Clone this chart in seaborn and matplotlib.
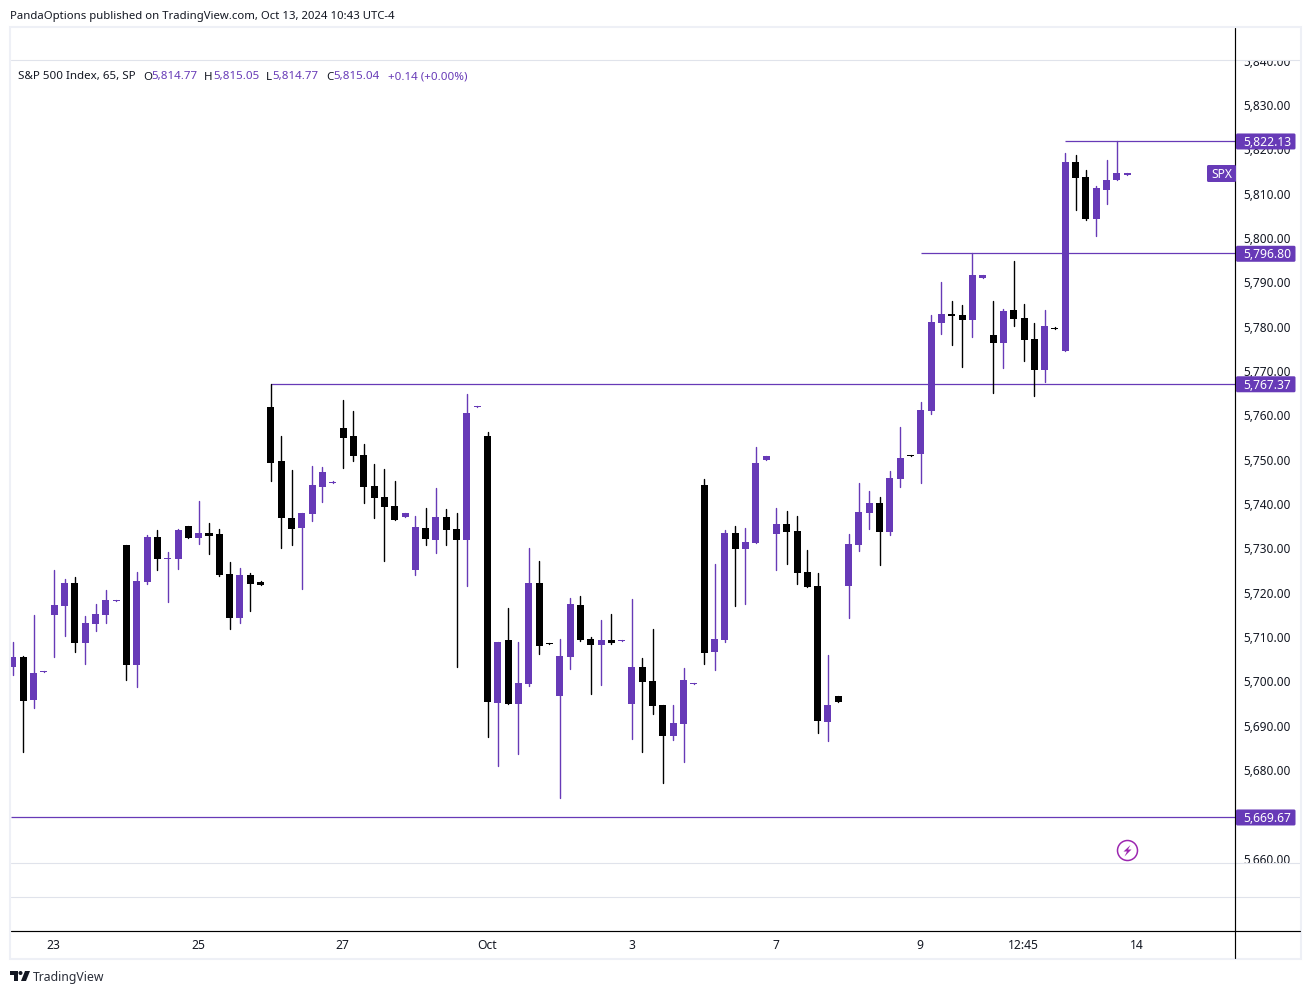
import numpy as np
import pandas as pd
import matplotlib
matplotlib.use("Agg")
import matplotlib.pyplot as plt
from matplotlib.patches import Rectangle, Polygon, Circle, FancyBboxPatch
from matplotlib.transforms import Affine2D
import seaborn as sns

opens = [5703.57,5705.83,5696.13,5702.44,5715.30,5717.33,5722.52,5708.98,5713.27,5715.30,5718.46,5731.09,5704.02,5722.74,5732.89,5727.93,5727.93,5735.37,5732.66,5733.79,
5733.57,5724.55,5714.62,5724.32,5722.74,5762.21,5750.03,5737.18,5734.92,5738.08,5744.17,5745.07,5757.47,5755.67,5751.38,5744.39,5741.91,5739.88,5737.40,5725.45,
5734.92,5732.21,5737.40,5734.69,5732.21,5762.21,5755.67,5695.45,5709.66,5695.23,5699.74,5722.52,5708.98,5697.03,5705.83,5717.55,5709.89,5708.53,5709.66,5709.43,
5695.23,5703.57,5700.41,5695.00,5688.01,5690.72,5699.74,5744.62,5706.95,5709.66,5733.79,5730.19,5731.54,5750.26,5733.57,5735.82,5734.25,5725.00,5721.84,5691.17,
5697.03,5721.84,5731.09,5738.30,5740.56,5734.02,5745.97,5751.39,5751.61,5761.30,5781.15,5783.18,5782.96,5781.83,5791.30,5778.44,5776.64,5784.08,5782.28,5777.54,
5770.55,5780.02,5774.84,5817.46,5814.08,5804.61,5811.15,5813.40,5814.53]
highs = [5709.21,5706.05,5715.30,5702.67,5725.45,5723.42,5723.87,5715.07,5717.78,5720.94,5718.68,5731.09,5725.00,5733.34,5734.47,5729.51,5734.69,5735.37,5741.01,5736.05,
5734.69,5727.25,5725.90,5724.77,5722.97,5767.37,5755.67,5748.00,5738.30,5748.90,5748.68,5745.52,5763.79,5761.31,5753.87,5749.35,5748.23,5745.52,5738.30,5737.63,
5739.43,5743.94,5739.21,5738.30,5765.14,5762.44,5756.57,5709.21,5716.88,5709.21,5730.41,5727.48,5708.98,5709.89,5719.13,5719.58,5710.34,5714.17,5715.52,5709.66,
5718.91,5705.60,5712.14,5695.00,5695.00,5703.35,5699.96,5745.97,5726.80,5734.47,5735.37,5734.92,5753.19,5751.16,5739.43,5738.76,5737.63,5729.96,5724.77,5706.28,
5697.03,5733.57,5745.07,5743.27,5741.91,5747.78,5757.70,5751.39,5763.33,5782.96,5790.40,5786.11,5785.21,5796.80,5791.98,5786.11,5784.31,5795.13,5785.44,5781.15,
5784.08,5780.25,5819.49,5819.04,5815.66,5812.05,5817.91,5822.13,5814.98]
lows = [5701.77,5684.40,5694.32,5702.44,5705.83,5710.56,5706.95,5704.25,5711.69,5713.49,5718.46,5700.64,5699.06,5722.29,5725.45,5718.23,5725.67,5732.66,5731.31,5729.06,
5724.09,5712.14,5713.49,5716.20,5722.06,5745.52,5730.41,5731.09,5721.16,5736.50,5740.78,5745.07,5748.45,5750.03,5740.56,5737.18,5727.48,5736.72,5737.40,5724.32,
5731.09,5729.28,5731.09,5703.57,5721.84,5762.21,5687.78,5681.24,5695.23,5683.95,5699.29,5706.50,5708.76,5674.02,5703.12,5709.43,5697.48,5699.51,5708.76,5709.43,
5687.33,5684.40,5692.97,5677.41,5687.11,5682.15,5699.74,5704.25,5702.89,5709.21,5717.33,5717.78,5731.54,5750.26,5725.45,5726.80,5722.29,5721.61,5688.69,5686.88,
5695.68,5714.62,5729.73,5734.70,5726.58,5733.34,5744.17,5751.16,5745.06,5760.63,5778.67,5776.19,5771.23,5777.99,5791.30,5765.36,5771.00,5780.47,5772.58,5764.69,
5767.84,5779.80,5774.84,5806.64,5804.38,5800.77,5807.99,5813.40,5814.53]
closes = [5705.83,5695.90,5702.22,5702.67,5717.55,5722.52,5708.98,5713.49,5715.52,5718.68,5718.68,5704.02,5722.97,5732.89,5727.93,5728.15,5734.47,5732.66,5733.79,5733.12,
5724.32,5714.62,5724.32,5722.29,5722.06,5749.58,5737.18,5734.69,5738.30,5744.62,5747.55,5745.30,5755.22,5751.16,5744.17,5741.69,5739.66,5736.72,5738.30,5735.15,
5732.44,5737.40,5734.47,5732.21,5760.86,5762.44,5695.68,5709.21,5695.23,5699.96,5722.52,5708.31,5708.76,5706.05,5717.78,5709.66,5708.53,5709.66,5708.98,5709.66,
5703.57,5700.19,5694.78,5688.01,5690.94,5700.64,5699.96,5706.73,5709.89,5733.79,5730.19,5731.76,5749.58,5751.16,5735.82,5734.02,5724.77,5721.61,5691.39,5695.00,
5695.68,5731.31,5738.53,5740.56,5734.02,5746.20,5750.71,5751.16,5761.53,5781.38,5783.18,5782.73,5781.83,5791.98,5791.98,5776.64,5783.86,5782.05,5777.32,5770.55,
5780.47,5779.80,5817.46,5813.85,5804.61,5811.60,5813.40,5814.98,5814.98]

level_prices = [5822.13, 5796.80, 5767.37, 5669.67]
level_starts = [102, 88, 25, None]
price_ticks = [5660] + list(range(5680, 5850, 10))
date_labels = ["23", "25", "27", "Oct", "3", "7", "9", "12:45", "14"]
date_bars = [4, 18, 32, 46, 60, 74, 88, 98, 109]
header = "PandaOptions published on TradingView.com, Oct 13, 2024 10:43 UTC-4"

PURPLE = "#673ab7"
DARK = "#131722"
W, H = 1311, 994

sns.set_theme(style="white")
plt.rcParams["font.family"] = ["Noto Sans", "DejaVu Sans"]

df = pd.DataFrame({"bar": np.arange(len(opens)), "open": opens, "high": highs, "low": lows, "close": closes})
df["dir"] = np.where(df["close"] >= df["open"], "up", "down")
palette = {"up": PURPLE, "down": "#000000"}

fig = plt.figure(figsize=(W / 100, H / 100), dpi=100, facecolor="white")
L, R, T, B = 10.5, 1235.5, 28, 931.5
ax = fig.add_axes([L / W, 1 - B / H, (R - L) / W, (B - T) / H])
XMIN, XMAX = -0.24, 118.50
ax.set_xlim(XMIN, XMAX)
ax.set_ylim(5853.9 - B * 0.22553, 5853.9 - T * 0.22553)

# levels
for p, s in zip(level_prices, level_starts):
    ax.hlines(p, s if s is not None else XMIN, XMAX, color=PURPLE, lw=0.9, zorder=1)

# wicks
long = pd.concat([df[["bar", "dir"]].assign(price=df["low"]), df[["bar", "dir"]].assign(price=df["high"])])
sns.lineplot(data=long, x="bar", y="price", hue="dir", units="bar", estimator=None, sort=False,
             palette=palette, linewidth=1.0, legend=False, ax=ax, zorder=2)

# bodies
bottom = df[["open", "close"]].min(axis=1)
height = (df["close"] - df["open"]).abs()
ax.bar(df["bar"], height, bottom=bottom, width=0.68, color=df["dir"].map(palette), linewidth=0, zorder=3)

sns.despine(ax=ax, left=True, bottom=True, right=True, top=True)
ax.set_xlabel("")
ax.set_ylabel("")
ax.yaxis.tick_right()
ax.set_yticks(price_ticks)
ax.set_yticklabels([f"{v:,.2f}" for v in price_ticks])
ax.set_xticks(date_bars)
ax.set_xticklabels(date_labels)
ax.tick_params(axis="y", length=0, pad=5.4, labelsize=8.55, labelcolor=DARK)
ax.tick_params(axis="x", length=0, pad=5.5, labelsize=8.7, labelcolor=DARK)
ax.set_xlim(XMIN, XMAX)
for t in ax.get_xticklabels():
    t.set_transform(t.get_transform() + Affine2D().translate(-0.5, 0))
    if t.get_text() == "Oct":
        t.set_fontweight("semibold")
for t in ax.get_yticklabels():
    t.set_transform(t.get_transform() + Affine2D().translate(0, 1))

# decoration layer in pixel coordinates
deco = fig.add_axes([0, 0, 1, 1], zorder=10)
deco.set_xlim(0, W)
deco.set_ylim(H, 0)
deco.axis("off")
deco.patch.set_alpha(0)

# masks hiding clipped scale labels
deco.add_patch(Rectangle((1236, 28), 64, 32, color="white", lw=0, zorder=1))
deco.add_patch(Rectangle((1236, 863), 64, 68, color="white", lw=0, zorder=1))

GRID = "#e0e3eb"
FRAME = "#eef0f6"
for y in (60.2, 863.2, 897.2):
    deco.plot([11, 1300], [y, y], color=GRID, lw=0.8, zorder=2)
deco.add_patch(Rectangle((10, 27), 1291, 932, fill=False, ec=FRAME, lw=1.5, zorder=2))
deco.plot([10.5, 1300], [931.2, 931.2], color="black", lw=0.85, zorder=3)
deco.plot([1235.2, 1235.2], [28, 958], color="black", lw=0.85, zorder=3)

# price tags
for p in level_prices:
    yp = H - ax.transData.transform((0, p))[1]
    deco.add_patch(FancyBboxPatch((1236, yp - 7.4), 59.5, 16, boxstyle="round,pad=0,rounding_size=1.5",
                                  fc=PURPLE, ec="none", zorder=4))
    deco.text(1267, yp + 0.2, f"{p:,.2f}", color="white", fontsize=8.7, ha="center", va="center_baseline",
              fontweight="medium", zorder=5)
deco.add_patch(FancyBboxPatch((1207, 165), 29, 17, boxstyle="round,pad=0,rounding_size=1.5",
                              fc=PURPLE, ec="none", zorder=4))
deco.text(1221.5, 173.5, "SPX", color="white", fontsize=8.7, ha="center", va="center_baseline",
          fontweight="medium", zorder=5)

# header and legend text
deco.text(10, 15, header, color=DARK, fontsize=8.17, ha="left", va="center_baseline")
legend_parts = [(18, "S&P 500 Index, 65, SP", DARK), (143, "O", DARK), (151, "5,814.77", PURPLE),
                (204, "H", DARK), (213, "5,815.05", PURPLE), (266, "L", DARK), (272, "5,814.77", PURPLE),
                (326, "C", DARK), (333, "5,815.04", PURPLE), (388, "+0.14 (+0.00%)", PURPLE)]
for x, s, c in legend_parts:
    deco.text(x, 75.5, s, color=c, fontsize=8.3, ha="left", va="center_baseline")

# lightning badge
deco.add_patch(Circle((1127.5, 850.5), 10, fill=False, ec="#9c27b0", lw=1.1, zorder=4))
deco.add_patch(Polygon([(1130.5, 845), (1123.5, 851.5), (1127, 851.5), (1124.5, 856.5),
                        (1131.5, 849.5), (1128, 849.5)], closed=True, fc="#9c27b0", ec="none", zorder=4))

# footer logo
LOGO = "#131722"
deco.add_patch(Polygon([(10, 971), (18, 971), (18, 981), (14, 981), (14, 975), (10, 975)], closed=True, fc=LOGO, ec="none"))
deco.add_patch(Circle((20.5, 973), 2, fc=LOGO, ec="none"))
deco.add_patch(Polygon([(25, 971), (30, 971), (26, 981), (21, 981)], closed=True, fc=LOGO, ec="none"))
deco.text(33, 976.5, "TradingView", color="#2a2e39", fontsize=8.8, ha="left", va="center_baseline")

fig.savefig("out.png", dpi=100, facecolor="white")
